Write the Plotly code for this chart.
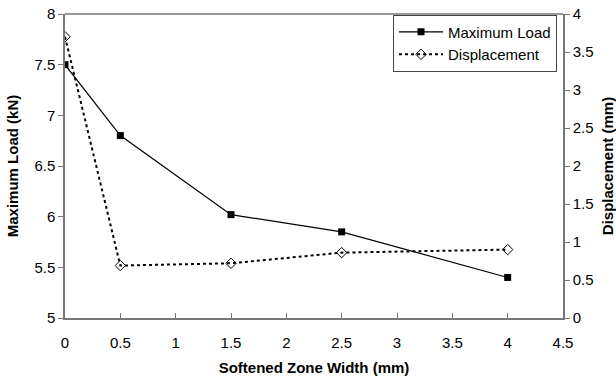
import plotly.graph_objects as go

# Softened zone width (mm)
zone_width = [0, 0.5, 1.5, 2.5, 4]
# Maximum load (kN), left axis
max_load = [7.50, 6.80, 6.02, 5.85, 5.40]
# Displacement (mm), right axis
displacement = [3.70, 0.69, 0.72, 0.86, 0.90]

FONT = "Liberation Sans, Arial, sans-serif"
AXIS_COLOR = "#777777"
TICK_SIZE = 15
TITLE_SIZE = 15

fig = go.Figure()
fig.add_trace(go.Scatter(
    x=zone_width, y=max_load, name="Maximum Load", mode="lines+markers",
    line=dict(color="black", width=1.2),
    marker=dict(symbol="square", size=7, color="black"),
))
fig.add_trace(go.Scatter(
    x=zone_width, y=displacement, name="Displacement", mode="lines+markers",
    yaxis="y2",
    line=dict(color="black", width=2, dash="dot"),
    marker=dict(symbol="diamond-open", size=8, color="black", line=dict(width=1)),
))

fig.update_layout(
    width=616, height=379,
    margin=dict(l=65, r=53, t=14, b=61, autoexpand=False),
    paper_bgcolor="white", plot_bgcolor="white",
    font=dict(family=FONT, size=TICK_SIZE, color="black"),
    showlegend=True,
    legend=dict(
        x=0.988, y=0.998, xanchor="right", yanchor="top",
        bgcolor="white", bordercolor="#444444", borderwidth=1,
        font=dict(size=15), tracegroupgap=0, itemwidth=44,
    ),
    xaxis=dict(
        range=[0, 4.5], dtick=0.5, showgrid=False, zeroline=False,
        showline=True, linecolor=AXIS_COLOR, linewidth=1.5, mirror=False,
        ticks="inside", ticklen=5, tickcolor=AXIS_COLOR, ticklabelstandoff=10,
        automargin=False,
        title=dict(text="<b>Softened Zone Width (mm)</b>", font=dict(size=TITLE_SIZE), standoff=13),
    ),
    yaxis=dict(
        range=[5, 8], dtick=0.5, showgrid=False, zeroline=False,
        showline=True, linecolor=AXIS_COLOR, linewidth=1.5,
        ticks="outside", ticklen=5, tickcolor=AXIS_COLOR, automargin=False,
        title=dict(text="<b>Maximum Load (kN)</b>", font=dict(size=TITLE_SIZE), standoff=12),
    ),
    yaxis2=dict(
        range=[0, 4], dtick=0.5, overlaying="y", side="right",
        showgrid=False, zeroline=False,
        showline=True, linecolor=AXIS_COLOR, linewidth=1.5,
        ticks="outside", ticklen=5, tickcolor=AXIS_COLOR, automargin=False,
        title=dict(text="<b>Displacement (mm)</b>", font=dict(size=TITLE_SIZE), standoff=10),
    ),
)

# top border of the plotting area
fig.add_shape(type="line", xref="paper", yref="paper", x0=0, x1=1, y0=1, y1=1,
              line=dict(color=AXIS_COLOR, width=1.5))

fig.write_html("out.html")
